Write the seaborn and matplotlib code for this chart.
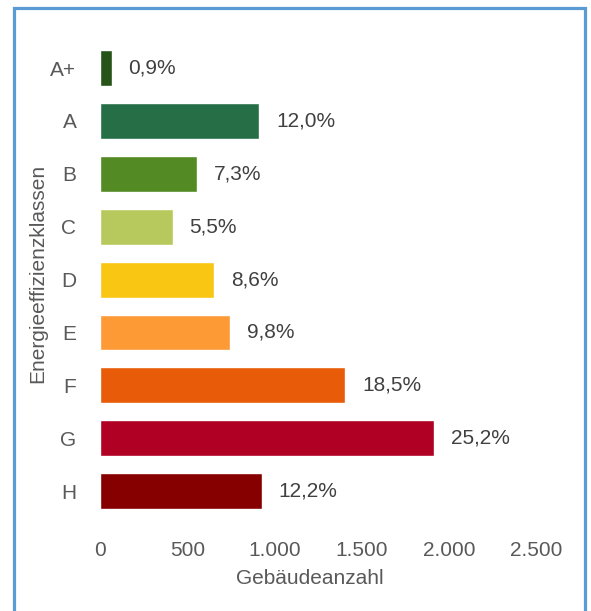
import matplotlib
matplotlib.use("Agg")
import matplotlib.pyplot as plt
import seaborn as sns
import pandas as pd
from matplotlib.patches import Rectangle

classes = ["A+", "A", "B", "C", "D", "E", "F", "G", "H"]
counts = [68, 912, 555, 418, 654, 745, 1406, 1915, 927]
pct_labels = ["0,9%", "12,0%", "7,3%", "5,5%", "8,6%", "9,8%", "18,5%", "25,2%", "12,2%"]
colors = ["#265418", "#256E46", "#538A23", "#B7C95C", "#F9C614", "#FD9A36",
          "#E85B08", "#B00024", "#860000"]
xticks = [0, 500, 1000, 1500, 2000, 2500]
xtick_labels = ["0", "500", "1.000", "1.500", "2.000", "2.500"]

sns.set_theme(style="white")
plt.rcParams["font.family"] = ["Liberation Sans", "DejaVu Sans"]

df = pd.DataFrame({"Klasse": classes, "Anzahl": counts})

fig = plt.figure(figsize=(5.91, 6.11), dpi=100)
ax = fig.add_axes([100 / 591, 1 - 517.6 / 611, 436.5 / 591, (517.6 - 41.6) / 611])

sns.barplot(data=df, x="Anzahl", y="Klasse", hue="Klasse", palette=colors,
            legend=False, width=0.68, saturation=1, ax=ax)

for cont, lab in zip(ax.containers, pct_labels):
    ax.bar_label(cont, labels=[lab], padding=12, fontsize=15, color="#404040")

ax.set_xlim(0, 2500)
ax.set_ylim(8.5, -0.5)
ax.set_xticks(xticks)
ax.set_xticklabels(xtick_labels)
ax.tick_params(axis="x", length=0, pad=17, labelsize=15, labelcolor="#595959")
ax.tick_params(axis="y", length=0, pad=17, labelsize=15, labelcolor="#595959")
for s in ax.spines.values():
    s.set_visible(False)
ax.grid(False)

ax.set_xlabel("Gebäudeanzahl", fontsize=15, color="#595959")
ax.xaxis.set_label_coords((310 - 100) / 436.5, -(569 - 517.6) / 476)
ax.set_ylabel("Energieeffizienzklassen", fontsize=15, color="#595959")
ax.yaxis.set_label_coords(-(100 - 47) / 436.5, (517.6 - 273) / 476)

fig.patches.append(Rectangle((14.5 / 591, -0.05), (585 - 14.5) / 591, 1.05 - 8 / 611,
                             transform=fig.transFigure, fill=False,
                             edgecolor="#5B9BD5", linewidth=2.3))

fig.savefig("out.png", dpi=100)
